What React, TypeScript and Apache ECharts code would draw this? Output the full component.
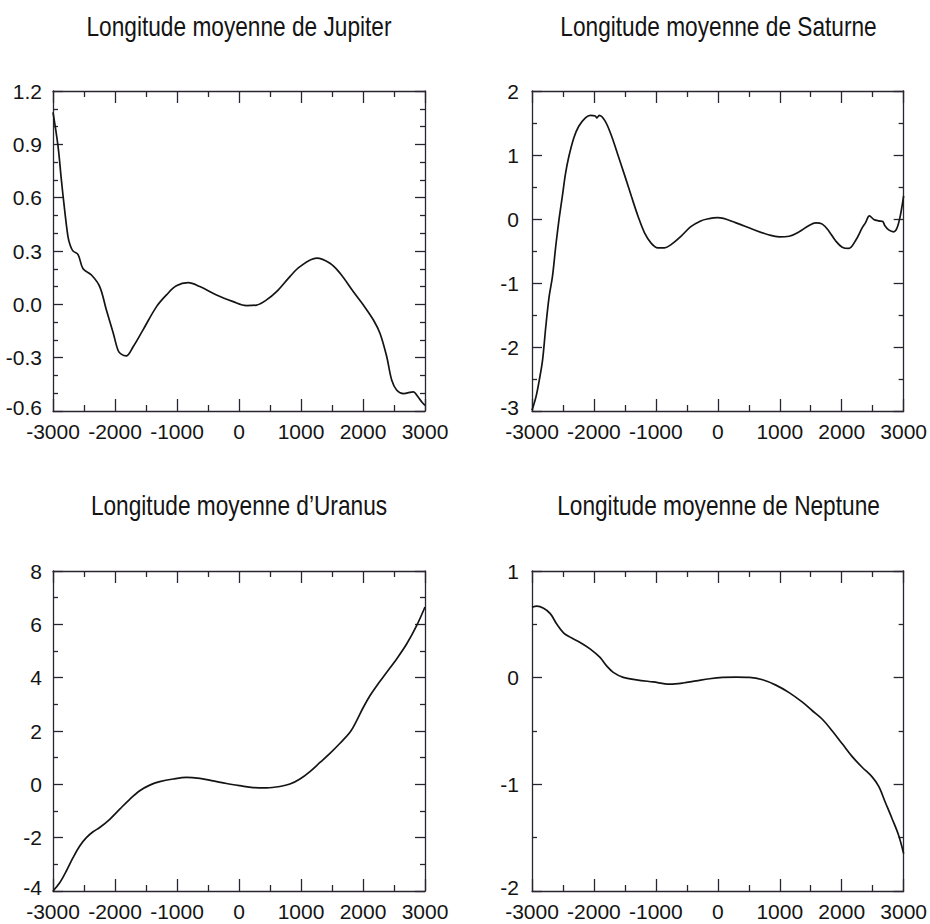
import React, { useEffect, useRef } from "react";
import * as echarts from "echarts";

// ---- Data ----
const titles = [
  "Longitude moyenne de Jupiter",
  "Longitude moyenne de Saturne",
  "Longitude moyenne d’Uranus",
  "Longitude moyenne de Neptune",
];

const jupiterYears = [-3000, -2919, -2865, -2812, -2758, -2720, -2677, -2596, -2515, -2380, -2247, -2140, -2030, -1950, -1900, -1820, -1710, -1550, -1330, -1170, -1010, -820, -632, -363, -94, 121, 283, 444, 606, 821, 983, 1252, 1467, 1630, 1845, 2006, 2168, 2275, 2383, 2464, 2545, 2653, 2814, 2868, 2949, 3000];
const jupiterValues = [1.08, 0.89, 0.7, 0.53, 0.38, 0.33, 0.3, 0.28, 0.2, 0.165, 0.1, -0.03, -0.16, -0.26, -0.28, -0.29, -0.24, -0.145, -0.013, 0.053, 0.104, 0.122, 0.1, 0.053, 0.015, -0.007, -0.004, 0.025, 0.071, 0.156, 0.212, 0.26, 0.231, 0.175, 0.071, -0.004, -0.088, -0.164, -0.295, -0.427, -0.483, -0.502, -0.492, -0.511, -0.549, -0.568];

const saturnYears = [-3000, -2936, -2883, -2830, -2777, -2723, -2670, -2617, -2564, -2511, -2457, -2404, -2324, -2245, -2138, -2058, -1979, -1952, -1915, -1819, -1713, -1606, -1500, -1394, -1287, -1181, -1074, -968, -862, -755, -596, -436, -277, -170, 0, 294, 562, 830, 991, 1152, 1313, 1473, 1580, 1687, 1794, 1901, 2008, 2115, 2222, 2330, 2383, 2448, 2518, 2598, 2663, 2695, 2759, 2839, 2893, 2946, 3000];
const saturnValues = [-2.99, -2.78, -2.52, -2.21, -1.68, -1.21, -0.9, -0.43, -0.01, 0.35, 0.72, 0.98, 1.27, 1.45, 1.58, 1.62, 1.61, 1.58, 1.62, 1.53, 1.29, 0.98, 0.67, 0.35, 0.04, -0.22, -0.38, -0.45, -0.45, -0.4, -0.27, -0.12, -0.03, 0.0, 0.02, -0.06, -0.16, -0.25, -0.28, -0.27, -0.2, -0.1, -0.06, -0.08, -0.19, -0.34, -0.44, -0.46, -0.34, -0.14, -0.06, 0.05, -0.006, -0.03, -0.04, -0.1, -0.17, -0.2, -0.14, 0.05, 0.36];

const uranusYears = [-3000, -2892, -2785, -2677, -2569, -2462, -2354, -2247, -2085, -1924, -1762, -1601, -1439, -1278, -1062, -847, -632, -417, -201, 14, 229, 444, 660, 821, 983, 1144, 1306, 1467, 1629, 1790, 1898, 2006, 2114, 2222, 2383, 2545, 2706, 2867, 3000];
const uranusValues = [-4.0, -3.69, -3.25, -2.75, -2.31, -2.0, -1.78, -1.62, -1.31, -0.93, -0.56, -0.24, -0.03, 0.1, 0.2, 0.26, 0.22, 0.13, 0.03, -0.05, -0.12, -0.13, -0.08, 0.01, 0.2, 0.48, 0.82, 1.16, 1.54, 1.95, 2.39, 2.89, 3.33, 3.7, 4.2, 4.71, 5.27, 5.96, 6.65];

const neptuneYears = [-3000, -2920, -2813, -2705, -2598, -2491, -2384, -2223, -2063, -1902, -1795, -1688, -1527, -1313, -1045, -777, -563, -349, -134, 80, 294, 508, 723, 937, 1151, 1366, 1526, 1687, 1848, 2009, 2170, 2330, 2491, 2598, 2705, 2812, 2920, 3000];
const neptuneValues = [0.66, 0.67, 0.65, 0.6, 0.5, 0.42, 0.38, 0.33, 0.27, 0.19, 0.11, 0.05, 0.003, -0.02, -0.04, -0.06, -0.05, -0.03, -0.01, 0.003, 0.006, 0.003, -0.02, -0.07, -0.14, -0.23, -0.31, -0.39, -0.5, -0.62, -0.74, -0.84, -0.93, -1.02, -1.17, -1.32, -1.48, -1.65];

const xMin = -3000;
const xMax = 3000;
const xInterval = 1000;

const yMins = [-0.6, -3, -4, -2];
const yMaxs = [1.2, 2, 8, 1];
const yIntervals = [0.3, 1, 2, 1];
const yMinorSplits = [3, 2, 2, 2];
const yDecimals = [1, 0, 0, 0];

const allYears = [jupiterYears, saturnYears, uranusYears, neptuneYears];
const allValues = [jupiterValues, saturnValues, uranusValues, neptuneValues];

// ---- Layout ----
const gridBoxes = [
  { left: 53, top: 91, width: 372, height: 320 },
  { left: 532, top: 91, width: 373, height: 320 },
  { left: 53, top: 571, width: 372, height: 320 },
  { left: 532, top: 571, width: 373, height: 320 },
];
const titleY = [26, 26, 505, 505];
const yLabelMargins = [11, 13, 11, 13];

const AXIS_COLOR = "#2a2430";
const TEXT_COLOR = "#141414";
const LABEL_FONT = "'Liberation Sans', Arial, Helvetica, sans-serif";
const TITLE_FONT = "'Liberation Sans', Arial, sans-serif";
const LABEL_SIZE = 21;

export default function App() {
  const ref = useRef<HTMLDivElement>(null);

  useEffect(() => {
    if (!ref.current) return;
    const chart = echarts.init(ref.current, undefined, { renderer: "svg" });

    const grid: any[] = [];
    const xAxis: any[] = [];
    const yAxis: any[] = [];
    const series: any[] = [];
    const graphic: any[] = [];

    for (let i = 0; i < 4; i++) {
      const g = gridBoxes[i];
      grid.push({ ...g, containLabel: false });

      const baseX = {
        type: "value",
        gridIndex: i,
        min: xMin,
        max: xMax,
        interval: xInterval,
        splitLine: { show: false },
        axisLine: { show: true, onZero: false, lineStyle: { color: AXIS_COLOR, width: 1.3 } },
        axisTick: { show: true, inside: true, length: 12, lineStyle: { color: AXIS_COLOR, width: 1.3 } },
        minorTick: { show: true, splitNumber: 2, length: 6, lineStyle: { color: AXIS_COLOR, width: 1.3 } },
      };
      xAxis.push({
        ...baseX,
        position: "bottom",
        axisLabel: {
          show: true,
          margin: 12,
          lineHeight: 16,
          color: TEXT_COLOR,
          fontSize: LABEL_SIZE,
          fontFamily: LABEL_FONT,
          formatter: (v: number) => String(Math.round(v)),
        },
      });
      xAxis.push({ ...baseX, position: "top", axisLabel: { show: false } });

      const dec = yDecimals[i];
      const yMin = yMins[i];
      const baseY = {
        type: "value",
        gridIndex: i,
        min: yMin,
        max: yMaxs[i],
        interval: yIntervals[i],
        splitLine: { show: false },
        axisLine: { show: true, onZero: false, lineStyle: { color: AXIS_COLOR, width: 1.3 } },
        axisTick: { show: true, inside: true, length: 10, lineStyle: { color: AXIS_COLOR, width: 1.3 } },
        minorTick: { show: true, splitNumber: yMinorSplits[i], length: 5, lineStyle: { color: AXIS_COLOR, width: 1.3 } },
      };
      yAxis.push({
        ...baseY,
        position: "left",
        axisLabel: {
          show: true,
          margin: yLabelMargins[i],
          lineHeight: 16,
          color: TEXT_COLOR,
          fontSize: LABEL_SIZE,
          fontFamily: LABEL_FONT,
          formatter: (v: number) => {
            const r = Number(v.toFixed(dec));
            const s = (Object.is(r, -0) ? 0 : r).toFixed(dec);
            return Math.abs(v - yMin) < 1e-9 ? `{lo|${s}}` : s;
          },
          rich: {
            lo: {
              color: TEXT_COLOR,
              fontSize: LABEL_SIZE,
              fontFamily: LABEL_FONT,
              lineHeight: 16,
              padding: [0, 0, 8, 0],
            },
          },
        },
      });
      yAxis.push({ ...baseY, position: "right", axisLabel: { show: false } });

      const years = allYears[i];
      const vals = allValues[i];
      series.push({
        type: "line",
        xAxisIndex: 2 * i,
        yAxisIndex: 2 * i,
        data: years.map((y, k) => [y, vals[k]]),
        showSymbol: false,
        symbol: "none",
        smooth: 0.35,
        lineStyle: { color: "#141414", width: 1.7 },
        clip: true,
      });

      graphic.push({
        type: "text",
        x: g.left + g.width / 2,
        y: titleY[i],
        scaleX: 0.81,
        style: {
          text: titles[i],
          fill: TEXT_COLOR,
          font: `28px ${TITLE_FONT}`,
          textAlign: "center",
          textVerticalAlign: "middle",
        },
      });
    }

    chart.setOption({
      animation: false,
      backgroundColor: "#ffffff",
      grid,
      xAxis,
      yAxis,
      series,
      graphic,
    });

    return () => chart.dispose();
  }, []);

  return (
    <div
      ref={ref}
      style={{ position: "absolute", left: 0, top: 0, width: 930, height: 924 }}
    />
  );
}
